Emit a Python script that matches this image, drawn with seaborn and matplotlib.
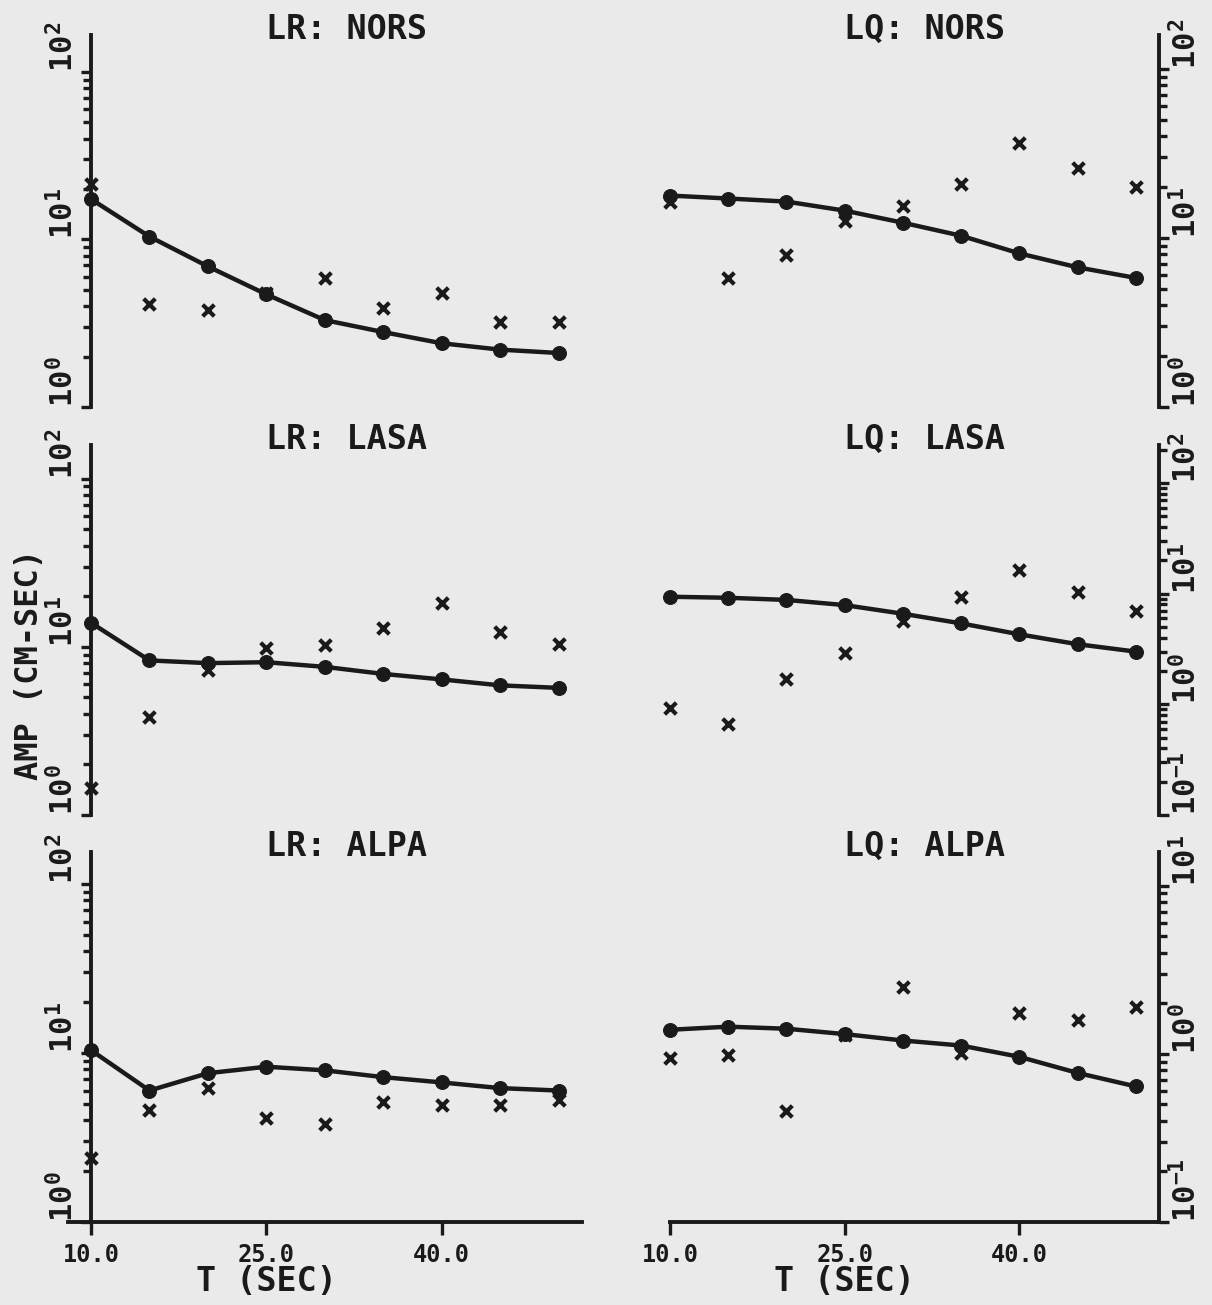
import numpy as np
import seaborn as sns
import matplotlib.pyplot as plt
from matplotlib.ticker import LogLocator, NullFormatter

sns.set_theme(style="ticks")
plt.rcParams['font.family'] = ['DejaVu Sans Mono', 'DejaVu Sans']
plt.rcParams['font.weight'] = 'bold'
plt.rcParams['mathtext.fontset'] = 'custom'
plt.rcParams['mathtext.rm'] = 'DejaVu Sans Mono:bold'

# periods (sec)
period = [10, 15, 20, 25, 30, 35, 40, 45, 50]

lr_nors_fit = [17.4, 10.4, 6.9, 4.7, 3.3, 2.8, 2.4, 2.2, 2.1]
lr_nors_obs = [21.3, 4.1, 3.8, 4.8, 5.9, 3.9, 4.8, 3.2, 3.2]
lq_nors_fit = [17.8, 17.1, 16.4, 14.5, 12.3, 10.3, 8.1, 6.7, 5.8]
lq_nors_obs = [16.2, 5.8, 7.9, 12.6, 15.5, 20.8, 36.5, 25.9, 19.9]
lr_lasa_fit = [13.9, 8.3, 8.0, 8.1, 7.6, 6.9, 6.4, 5.9, 5.7]
lr_lasa_obs = [1.45, 3.8, 7.3, 9.9, 10.3, 13.0, 18.3, 12.3, 10.4]
lq_lasa_fit = [9.4, 9.2, 8.8, 7.9, 6.6, 5.4, 4.3, 3.5, 3.0]
lq_lasa_obs = [0.92, 0.66, 1.69, 2.9, 5.7, 9.4, 16.5, 10.4, 7.0]
lr_alpa_fit = [10.4, 6.0, 7.6, 8.3, 7.9, 7.2, 6.7, 6.2, 6.0]
lr_alpa_obs = [2.4, 4.6, 6.2, 4.1, 3.8, 5.1, 4.9, 4.9, 5.3]
lq_alpa_fit = [1.39, 1.45, 1.41, 1.31, 1.20, 1.12, 0.96, 0.77, 0.64]
lq_alpa_obs = [0.95, 0.99, 0.46, 1.30, 2.49, 1.01, 1.75, 1.59, 1.90]

titles = ["LR: NORS", "LQ: NORS", "LR: LASA", "LQ: LASA", "LR: ALPA", "LQ: ALPA"]
x_ticks = [10, 25, 40]
x_ticklabels = ["10.0", "25.0", "40.0"]

panels = [
    (lr_nors_fit, lr_nors_obs, [0, 1, 2], 2.22),
    (lq_nors_fit, lq_nors_obs, [0, 1, 2], 2.20),
    (lr_lasa_fit, lr_lasa_obs, [0, 1, 2], 2.20),
    (lq_lasa_fit, lq_lasa_obs, [-1, 0, 1, 2], 2.345),
    (lr_alpa_fit, lr_alpa_obs, [0, 1, 2], 2.19),
    (lq_alpa_fit, lq_alpa_obs, [-1, 0, 1], 1.20),
]

W, H = 1212, 1305
paper = '#eaeaea'
fig = plt.figure(figsize=(W / 100, H / 100), dpi=100, facecolor=paper)

cols = [(91, 582), (670, 1159)]
rows = [(35, 407), (445, 815), (852, 1222)]

for i, (fit, obs, exps, top) in enumerate(panels):
    r, c = divmod(i, 2)
    x0, x1 = cols[c]
    y0, y1 = rows[r]
    ax = fig.add_axes([x0 / W, 1 - y1 / H, (x1 - x0) / W, (y1 - y0) / H])
    ax.set_facecolor('none')
    ax.set_yscale('log')

    sns.lineplot(x=period, y=fit, ax=ax, color='k', lw=3.2, marker='o',
                 markersize=10, markeredgecolor='k', clip_on=False, zorder=3)
    sns.scatterplot(x=period, y=obs, ax=ax, marker='x', s=70, color='k',
                    linewidth=3, clip_on=False, zorder=4)

    ax.set_xlim(10, 52)
    ax.set_ylim(10.0 ** exps[0], 10.0 ** top)

    ax.yaxis.set_minor_locator(LogLocator(base=10, subs=np.arange(2, 10)))
    ax.yaxis.set_minor_formatter(NullFormatter())
    ax.tick_params(axis='y', which='major', length=7, width=2.4, color='k', pad=1)
    ax.tick_params(axis='y', which='minor', length=6, width=2.4, color='k')

    for s in ax.spines.values():
        s.set_linewidth(2.8)
        s.set_color('k')
    ax.spines['top'].set_visible(False)

    if c == 0:
        ax.spines['right'].set_visible(False)
        ha = 'right'
    else:
        ax.spines['left'].set_visible(False)
        ax.yaxis.tick_right()
        ha = 'left'
    ax.set_yticks([10.0 ** e for e in exps],
                  [r'$\mathrm{10}^{%d}$' % e for e in exps],
                  rotation=90, va='bottom', ha=ha, fontsize=22, color='k')

    if r < 2:
        ax.spines['bottom'].set_visible(False)
        ax.set_xticks([])
    else:
        ax.set_xticks(x_ticks, x_ticklabels, fontsize=17, fontweight='bold', color='k')
        ax.tick_params(axis='x', length=9, width=2.4, color='k', pad=6)
        ax.set_xlabel("T (SEC)", fontsize=24, fontweight='bold', color='k')
        ax.xaxis.set_label_coords((25 - 10) / (52 - 10), -0.115)
        if c == 0:
            ax.spines['bottom'].set_bounds(8.0, 52)

    ax.text(0.52, 1.015, titles[i], transform=ax.transAxes, ha='center',
            va='center', fontsize=24, fontweight='bold', color='k')

fig.text(30 / W, 1 - 665 / H, "AMP (CM-SEC)", rotation=90, ha='center',
         va='center', fontsize=23, fontweight='bold', color='k')

fig.savefig('out.png', dpi=100, facecolor=paper)
